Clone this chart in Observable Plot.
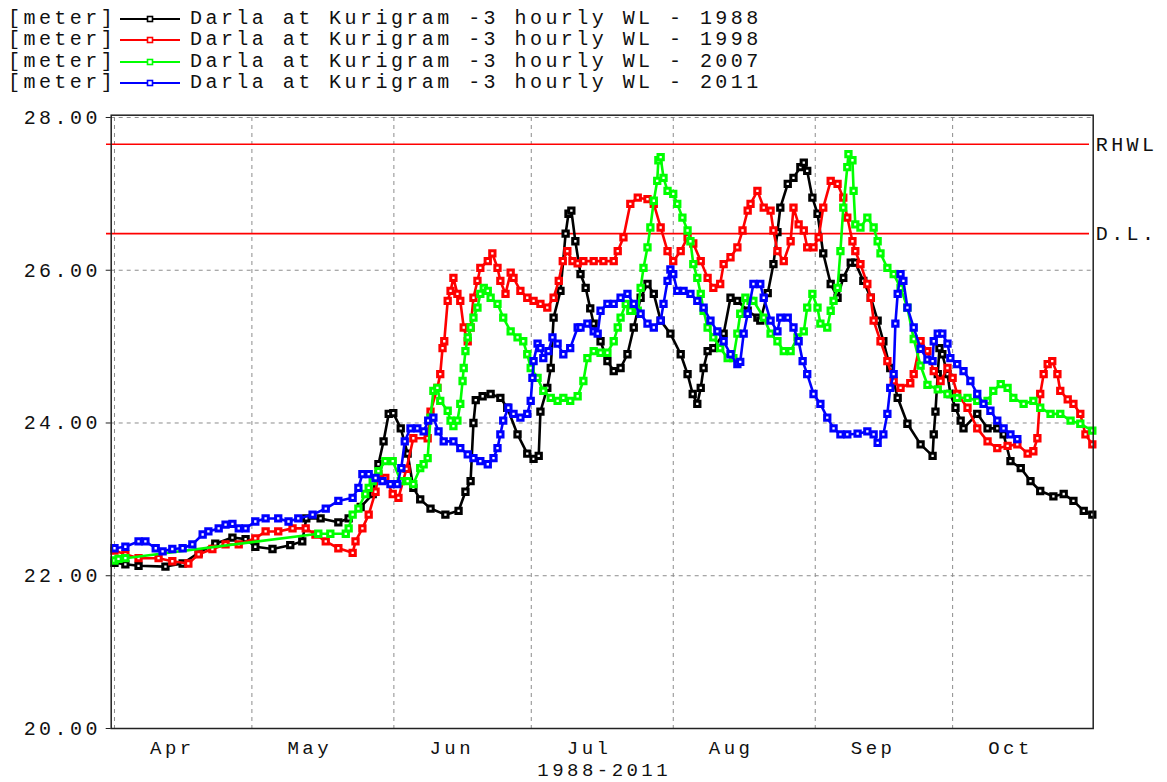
<!DOCTYPE html>
<html>
<head>
<meta charset="utf-8">
<script src="https://cdn.jsdelivr.net/npm/d3@7"></script>
<script src="https://cdn.jsdelivr.net/npm/@observablehq/plot@0.6"></script>
<style>
  html, body { margin: 0; padding: 0; background: #fff; }
  #wrap { position: relative; width: 1167px; height: 782px; overflow: hidden; }
  #legend { position: relative; width: 1167px; height: 100px; font-family: 'Liberation Mono', monospace; font-size: 20px; letter-spacing: 3.45px; color: #111; }
  .row { position: absolute; left: 0; height: 22px; line-height: 22px; white-space: pre; }
  .row span { position: absolute; top: 0; }
  .row svg { position: absolute; top: 6px; }
</style>
</head>
<body>
<div id="wrap">
  <div id="legend"></div>
  <div id="chart"></div>
</div>
<script>
// ---------------- data ----------------
const seriesYears = ["1988", "1998", "2007", "2011"];
const seriesColors = ["#000000", "#ff0000", "#00ff00", "#0000ff"];
const legendUnit = "[meter]";
const legendPrefix = "Darla at Kurigram -3 hourly WL - ";
const monthNames = ["Apr", "May", "Jun", "Jul", "Aug", "Sep", "Oct"];
const xTitle = "1988-2011";
const yTicks = [20, 22, 24, 26, 28];
const refLabels = ["RHWL", "D.L."];
const refValues = [27.65, 26.48];

// date strings "MM-DD HH" (3-hourly WL, meter)
const wl1988 = [
["04-01 00",22.17],["04-03 09",22.15],["04-06 06",22.13],["04-12 03",22.12],["04-15 21",22.16],["04-19 09",22.3],["04-23 00",22.42],["04-26 18",22.5],["04-29 15",22.48],["05-01 18",22.38],["05-05 12",22.35],["05-09 09",22.4],["05-12 00",22.45],["05-12 21",22.75],["05-16 00",22.75],["05-19 21",22.7],["05-22 03",22.75],["05-24 18",22.9],["05-27 09",23.07],["05-28 15",23.46],["05-29 18",23.76],["05-30 21",24.12],["05-31 21",24.13],["06-02 12",23.93],["06-04 00",23.6],["06-05 06",23.15],["06-06 18",23.0],["06-09 00",22.88],["06-12 06",22.8],["06-15 03",22.85],["06-16 15",23.1],["06-17 18",23.24],["06-18 09",24.0],["06-18 21",24.3],["06-20 09",24.35],["06-22 03",24.38],["06-24 06",24.33],["06-25 18",24.2],["06-28 00",23.85],["06-30 03",23.6],["07-01 12",23.53],["07-02 15",23.57],["07-03 00",24.15],["07-04 12",24.46],["07-05 06",24.72],["07-05 21",25.38],["07-07 09",25.73],["07-08 12",26.48],["07-09 03",26.74],["07-09 18",26.78],["07-10 15",26.38],["07-11 18",25.95],["07-12 21",25.77],["07-13 21",25.5],["07-14 15",25.3],["07-16 03",25.07],["07-17 15",24.81],["07-19 00",24.68],["07-20 12",24.72],["07-22 00",24.9],["07-23 09",25.25],["07-24 21",25.64],["07-26 09",25.82],["07-27 18",25.69],["07-29 06",25.34],["07-31 09",25.17],["08-02 15",24.9],["08-04 03",24.64],["08-05 06",24.38],["08-06 06",24.25],["08-07 00",24.46],["08-07 15",24.72],["08-08 12",24.94],["08-09 18",24.98],["08-12 00",25.17],["08-13 12",25.64],["08-15 00",25.6],["08-17 06",25.47],["08-19 09",25.38],["08-20 00",25.34],["08-21 15",25.7],["08-22 21",26.08],["08-23 18",26.5],["08-24 09",26.82],["08-26 00",27.13],["08-27 06",27.21],["08-28 18",27.35],["08-29 12",27.41],["08-30 06",27.3],["08-31 09",26.95],["09-01 12",26.74],["09-02 18",26.22],["09-04 09",25.82],["09-05 21",25.64],["09-07 03",25.9],["09-08 18",26.1],["09-09 18",26.1],["09-11 12",25.86],["09-13 03",25.64],["09-14 15",25.34],["09-15 21",25.07],["09-17 09",24.72],["09-19 00",24.33],["09-21 03",23.99],["09-24 00",23.72],["09-26 15",23.57],["09-26 21",23.85],["09-27 06",24.15],["09-27 18",24.64],["09-28 03",24.98],["09-28 18",24.9],["09-29 21",24.64],["09-30 12",24.38],["10-01 15",24.2],["10-02 18",24.03],["10-03 09",23.93],["10-06 09",24.12],["10-08 15",23.93],["10-10 18",23.93],["10-12 03",23.85],["10-13 15",23.5],["10-15 21",23.41],["10-18 00",23.24],["10-20 03",23.11],["10-23 00",23.04],["10-25 06",23.07],["10-27 09",22.98],["10-29 15",22.85],["10-31 12",22.8]
];
const wl1998 = [
["04-01 00",22.33],["04-03 09",22.28],["04-06 06",22.23],["04-10 15",22.23],["04-13 15",22.19],["04-17 03",22.16],["04-19 09",22.28],["04-22 09",22.35],["04-25 06",22.41],["04-28 03",22.41],["05-01 18",22.49],["05-04 00",22.58],["05-06 18",22.58],["05-09 21",22.62],["05-12 18",22.62],["05-14 21",22.54],["05-17 03",22.45],["05-19 21",22.36],["05-23 00",22.3],["05-23 15",22.45],["05-25 03",22.62],["05-26 12",22.8],["05-28 00",23.1],["05-28 15",23.33],["05-30 03",23.28],["05-31 18",23.07],["06-02 00",23.02],["06-03 18",23.4],["06-05 06",23.8],["06-08 09",23.8],["06-09 00",24.15],["06-10 12",24.46],["06-11 03",24.64],["06-11 15",24.98],["06-12 00",25.07],["06-12 18",25.6],["06-13 09",25.73],["06-14 00",25.9],["06-14 21",25.69],["06-15 12",25.6],["06-16 06",25.25],["06-17 03",25.07],["06-17 18",25.25],["06-18 09",25.64],["06-19 06",25.86],["06-19 21",26.03],["06-21 12",26.12],["06-22 12",26.22],["06-23 15",26.03],["06-24 06",25.86],["06-25 09",25.69],["06-26 12",25.97],["06-27 03",25.9],["06-28 15",25.73],["06-30 03",25.64],["07-01 12",25.6],["07-03 00",25.56],["07-04 12",25.51],["07-05 21",25.64],["07-07 00",25.86],["07-07 21",26.12],["07-08 21",26.25],["07-10 00",26.12],["07-11 03",26.09],["07-12 09",26.12],["07-14 15",26.12],["07-16 18",26.12],["07-19 00",26.12],["07-19 21",26.25],["07-21 03",26.43],["07-22 15",26.87],["07-24 06",26.95],["07-26 09",26.93],["07-27 18",26.87],["07-29 06",26.56],["07-30 18",26.25],["08-01 00",26.12],["08-02 15",26.25],["08-04 03",26.43],["08-05 09",26.35],["08-07 00",26.12],["08-08 12",25.9],["08-09 18",25.77],["08-11 06",25.82],["08-12 00",26.08],["08-13 12",26.17],["08-15 00",26.3],["08-16 03",26.52],["08-17 06",26.78],["08-17 21",26.87],["08-19 09",27.04],["08-20 18",26.82],["08-22 06",26.78],["08-22 21",26.52],["08-23 18",26.25],["08-25 03",26.12],["08-26 15",26.38],["08-27 06",26.82],["08-28 09",26.6],["08-29 12",26.52],["08-30 06",26.3],["08-31 15",26.3],["09-01 18",26.43],["09-02 18",26.82],["09-04 09",27.17],["09-05 21",27.13],["09-07 03",26.95],["09-08 00",26.69],["09-09 03",26.38],["09-09 18",26.25],["09-10 21",26.08],["09-12 09",25.82],["09-13 03",25.64],["09-13 18",25.34],["09-15 06",25.07],["09-16 18",24.81],["09-18 03",24.55],["09-19 15",24.46],["09-21 18",24.52],["09-22 12",24.64],["09-24 00",25.07],["09-25 12",24.94],["09-26 21",24.68],["09-28 09",24.55],["09-29 21",24.72],["10-01 00",24.59],["10-02 00",24.38],["10-04 06",24.2],["10-06 09",23.93],["10-08 15",23.76],["10-10 18",23.67],["10-13 00",23.7],["10-15 03",23.72],["10-17 09",23.6],["10-18 15",23.63],["10-19 12",23.8],["10-20 03",24.38],["10-20 21",24.64],["10-21 18",24.77],["10-22 18",24.81],["10-23 21",24.64],["10-24 12",24.42],["10-26 03",24.31],["10-27 09",24.25],["10-28 21",24.12],["10-30 00",23.85],["10-31 12",23.72]
];
const wl2007 = [
["04-01 00",22.2],["04-01 21",22.22],["04-03 09",22.23],["05-15 12",22.55],["05-18 03",22.55],["05-21 12",22.55],["05-22 03",22.62],["05-23 00",22.8],["05-24 06",22.88],["05-25 18",23.07],["05-26 12",23.15],["05-27 09",23.24],["05-28 15",23.37],["05-30 03",23.5],["05-31 18",23.5],["06-02 12",23.24],["06-04 00",23.24],["06-05 06",23.2],["06-06 18",23.41],["06-07 12",23.46],["06-08 09",23.54],["06-09 00",24.07],["06-09 15",24.42],["06-10 12",24.46],["06-11 03",24.29],["06-12 18",24.16],["06-13 09",24.03],["06-14 00",23.96],["06-14 21",24.03],["06-15 12",24.25],["06-16 00",24.55],["06-16 06",24.72],["06-16 15",24.94],["06-17 03",25.12],["06-17 18",25.25],["06-18 09",25.38],["06-19 06",25.51],["06-19 21",25.69],["06-20 15",25.77],["06-21 12",25.73],["06-22 03",25.64],["06-23 15",25.56],["06-24 21",25.38],["06-26 12",25.2],["06-28 00",25.12],["06-29 06",25.07],["06-30 03",24.9],["06-30 21",24.72],["07-02 09",24.59],["07-03 15",24.42],["07-05 06",24.33],["07-06 18",24.29],["07-08 00",24.33],["07-09 12",24.29],["07-11 03",24.35],["07-12 09",24.55],["07-13 06",24.85],["07-14 15",24.94],["07-16 03",24.92],["07-17 15",24.92],["07-19 00",25.07],["07-19 21",25.25],["07-20 12",25.38],["07-21 15",25.56],["07-22 15",25.47],["07-24 06",25.47],["07-24 21",25.77],["07-25 12",26.03],["07-26 09",26.3],["07-27 00",26.56],["07-27 18",26.91],["07-28 12",27.17],["07-28 18",27.44],["07-29 06",27.48],["07-29 21",27.21],["07-30 18",27.04],["08-01 00",27.0],["08-01 21",26.87],["08-03 00",26.69],["08-04 03",26.52],["08-04 18",26.38],["08-05 09",26.08],["08-06 06",25.9],["08-07 00",25.69],["08-07 15",25.47],["08-08 12",25.25],["08-09 18",25.12],["08-11 06",24.98],["08-12 21",24.85],["08-14 03",24.85],["08-15 00",25.17],["08-15 15",25.43],["08-16 18",25.64],["08-17 21",25.6],["08-18 12",25.6],["08-20 18",25.38],["08-22 06",25.17],["08-23 18",25.07],["08-25 03",24.94],["08-26 15",24.94],["08-28 03",25.12],["08-29 12",25.2],["08-30 06",25.51],["08-31 09",25.69],["09-01 12",25.51],["09-02 03",25.3],["09-03 15",25.25],["09-04 09",25.47],["09-05 00",25.6],["09-05 21",25.77],["09-06 12",26.25],["09-07 03",26.82],["09-08 00",27.35],["09-08 06",27.52],["09-09 03",27.44],["09-09 09",27.04],["09-09 18",26.6],["09-10 21",26.56],["09-12 09",26.69],["09-13 18",26.56],["09-14 15",26.38],["09-15 06",26.22],["09-16 18",26.03],["09-18 03",25.95],["09-19 15",25.77],["09-21 03",25.51],["09-22 12",25.1],["09-24 00",24.75],["09-25 12",24.5],["09-27 18",24.44],["09-29 21",24.38],["10-02 00",24.33],["10-04 06",24.33],["10-06 09",24.29],["10-08 15",24.29],["10-09 21",24.42],["10-11 12",24.51],["10-13 00",24.46],["10-14 06",24.33],["10-16 12",24.25],["10-18 15",24.29],["10-20 03",24.2],["10-22 09",24.12],["10-24 12",24.12],["10-26 18",24.03],["10-28 21",23.99],["10-31 12",23.9]
];
const wl2011 = [
["04-01 00",22.36],["04-03 09",22.38],["04-06 06",22.45],["04-07 18",22.45],["04-10 00",22.36],["04-11 12",22.32],["04-13 15",22.35],["04-15 21",22.36],["04-18 00",22.41],["04-20 06",22.54],["04-21 12",22.58],["04-23 18",22.62],["04-25 06",22.67],["04-26 18",22.68],["04-28 03",22.62],["04-29 15",22.62],["05-01 18",22.71],["05-04 00",22.75],["05-06 18",22.75],["05-09 00",22.71],["05-11 03",22.75],["05-14 06",22.8],["05-17 03",22.88],["05-19 21",22.98],["05-23 00",23.02],["05-24 06",23.15],["05-25 03",23.33],["05-26 12",23.33],["05-28 00",23.28],["05-29 12",23.24],["05-31 06",23.2],["06-01 18",23.2],["06-02 15",23.41],["06-03 09",23.76],["06-04 15",23.93],["06-06 03",23.93],["06-07 12",23.89],["06-08 12",24.03],["06-09 15",24.07],["06-10 18",23.89],["06-11 21",23.76],["06-14 00",23.76],["06-15 12",23.67],["06-17 03",23.59],["06-18 09",23.54],["06-19 21",23.5],["06-21 12",23.46],["06-22 18",23.54],["06-23 15",23.67],["06-24 06",23.85],["06-24 21",24.03],["06-26 00",24.2],["06-27 03",24.12],["06-28 15",24.07],["06-30 03",24.12],["06-30 21",24.29],["07-01 06",24.59],["07-01 12",24.81],["07-02 09",25.04],["07-03 00",24.98],["07-03 15",24.85],["07-04 18",24.94],["07-05 15",25.12],["07-06 18",25.04],["07-08 00",24.9],["07-09 12",24.98],["07-11 03",25.25],["07-11 18",25.25],["07-13 06",25.3],["07-14 15",25.2],["07-15 12",25.17],["07-16 03",25.47],["07-17 15",25.56],["07-19 00",25.56],["07-20 12",25.64],["07-22 00",25.69],["07-23 09",25.56],["07-24 21",25.43],["07-26 09",25.3],["07-27 18",25.25],["07-29 06",25.34],["07-29 21",25.56],["07-30 18",25.86],["07-31 09",26.01],["08-01 00",25.95],["08-01 21",25.73],["08-03 06",25.73],["08-04 18",25.69],["08-06 06",25.6],["08-07 15",25.51],["08-09 03",25.34],["08-10 15",25.2],["08-12 00",25.07],["08-13 12",24.9],["08-15 00",24.77],["08-15 15",24.8],["08-16 09",25.17],["08-17 06",25.43],["08-18 12",25.82],["08-20 00",25.82],["08-20 18",25.64],["08-22 06",25.34],["08-23 18",25.2],["08-24 09",25.38],["08-26 00",25.38],["08-27 06",25.25],["08-28 09",25.07],["08-29 06",24.81],["08-30 06",24.64],["08-31 15",24.38],["09-02 03",24.25],["09-03 15",24.07],["09-05 00",23.93],["09-06 12",23.85],["09-08 00",23.85],["09-10 06",23.86],["09-12 09",23.89],["09-13 18",23.85],["09-14 15",23.74],["09-15 21",23.85],["09-16 18",24.12],["09-17 09",24.46],["09-18 03",24.64],["09-18 12",25.3],["09-19 00",25.69],["09-19 15",25.95],["09-20 06",25.86],["09-21 03",25.51],["09-22 12",25.25],["09-24 00",24.97],["09-25 12",24.83],["09-26 15",24.81],["09-26 21",25.07],["09-27 18",25.17],["09-28 18",25.17],["09-29 21",25.04],["09-30 12",24.85],["10-02 00",24.77],["10-03 09",24.68],["10-04 21",24.55],["10-06 09",24.38],["10-07 18",24.25],["10-09 06",24.16],["10-10 18",24.03],["10-12 03",23.93],["10-13 15",23.85],["10-15 03",23.79]
];
const seriesData = [wl1988, wl1998, wl2007, wl2011];

// ---------------- build ----------------
const YEAR = 2001;
const DAY = 864e5;
function parseTime(s) {
  const [md, hh] = s.split(" ");
  const [m, d] = md.split("-").map(Number);
  return new Date(Date.UTC(YEAR, m - 1, d, +hh));
}
const rows = seriesData.flatMap((arr, k) =>
  arr.map(([t, v]) => ({year: seriesYears[k], date: parseTime(t), value: v})));
const monthStarts = monthNames.map((_, i) => new Date(Date.UTC(YEAR, 3 + i, 1)));
const refs = refLabels.map((label, i) => ({label, value: refValues[i]}));

const xDomain = [new Date(Date.UTC(YEAR, 3, 1) - 0.72 * DAY), new Date(Date.UTC(YEAR, 3, 1) + 213.69 * DAY)];

const marks = [
  Plot.ruleY(yTicks, {stroke: "#8c8c8c", strokeDasharray: "4,4", strokeWidth: 1}),
  Plot.ruleX(monthStarts, {stroke: "#8c8c8c", strokeDasharray: "4,4", strokeWidth: 1, insetTop: 2.3, insetBottom: -5}),
  Plot.ruleY(refs, {y: "value", stroke: "#ff0000", strokeWidth: 1.6, insetLeft: -4.7, insetRight: 3.7}),
  Plot.text(refs, {y: "value", text: "label", frameAnchor: "right", textAnchor: "start", dx: 2.5, fill: "#111"})
];
seriesYears.forEach((yr, k) => {
  const d = rows.filter(r => r.year === yr);
  marks.push(Plot.line(d, {x: "date", y: "value", stroke: seriesColors[k], strokeWidth: 2.6, strokeLinejoin: "round"}));
  marks.push(Plot.dot(d, {x: "date", y: "value", symbol: "square", r: 3.0, stroke: seriesColors[k], strokeWidth: 3, fill: "white"}));
});
marks.push(
  Plot.frame({stroke: "#222", strokeWidth: 1.5}),
  Plot.axisY({ticks: yTicks, tickSize: 5, tickPadding: 5.3, tickFormat: d => d.toFixed(2), label: null, stroke: "#222", fill: "#111"}),
  Plot.text(monthNames, {x: (d, i) => new Date(+monthStarts[i] + 12.2 * DAY), frameAnchor: "bottom", dy: 19, dx: 2, lineAnchor: "middle", fill: "#111", fontSize: 19}),
  Plot.text([xTitle], {frameAnchor: "bottom", dy: 41, dx: 2, lineAnchor: "middle", fill: "#111", fontSize: 19})
);

const chart = Plot.plot({
  width: 1167,
  height: 682,
  marginLeft: 110.7,
  marginRight: 74.3,
  marginTop: 14.7,
  marginBottom: 54,
  style: "font-family: 'Liberation Mono', monospace; font-size: 20px; letter-spacing: 3.45px; background: white; overflow: visible;",
  x: {type: "utc", domain: xDomain, axis: null},
  y: {domain: [20, 28.03], label: null},
  marks
});
document.getElementById("chart").appendChild(chart);

// ---------------- legend ----------------
const legend = d3.select("#legend");
seriesYears.forEach((yr, k) => {
  const row = legend.append("div").attr("class", "row").style("top", (8 + k * 21.4) + "px").style("width", "1167px");
  row.append("span").style("left", "8px").text(legendUnit);
  const s = row.append("svg").attr("width", 62).attr("height", 10).style("left", "119px");
  s.append("line").attr("x1", 1).attr("x2", 61).attr("y1", 5).attr("y2", 5).attr("stroke", seriesColors[k]).attr("stroke-width", 2);
  s.append("rect").attr("x", 28.5).attr("y", 2.5).attr("width", 5).attr("height", 5).attr("fill", "white").attr("stroke", seriesColors[k]).attr("stroke-width", 1.6);
  row.append("span").style("left", "190px").text(legendPrefix + yr);
});
</script>
</body>
</html>
